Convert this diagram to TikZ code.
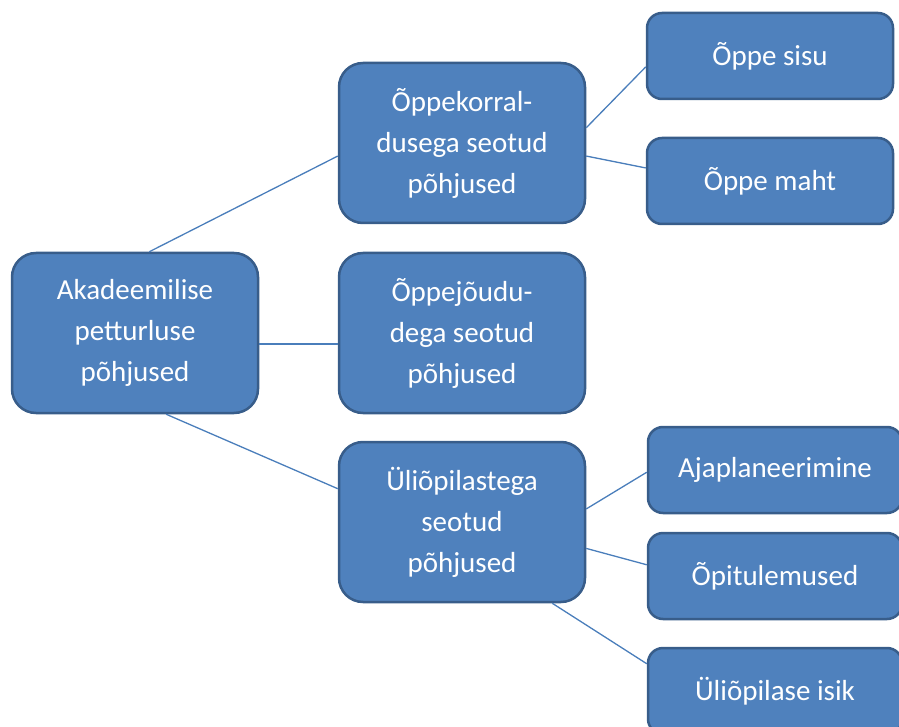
\documentclass[tikz,border=0pt]{standalone}
\usepackage{fontspec}
\setmainfont{Carlito}
\definecolor{boxfill}{HTML}{4F81BD}
\definecolor{boxline}{HTML}{385D8A}
\definecolor{linkline}{HTML}{4A7EBB}
\tikzset{
  bigbox/.style={draw=boxline, line width=2.5pt, fill=boxfill, rounded corners=24pt,
    minimum width=246pt, minimum height=160pt, text=white, align=center,
    font=\fontsize{29}{41}\selectfont, inner sep=0pt},
  leafbox/.style={bigbox, minimum height=86pt, rounded corners=15pt},
  wideleaf/.style={leafbox, minimum width=254pt}
}
\tikzset{link/.style={draw=linkline, line width=1.3pt}}
\begin{document}
\begin{tikzpicture}[x=1pt,y=-1pt]
  \useasboundingbox (0,0) rectangle (899,727);
  \clip (0,0) rectangle (899,727);
  \node[bigbox] (root) at (135,333) {Akadeemilise\\petturluse\\põhjused};
  \node[bigbox] (korraldus) at (462,143) {Õppekorral-\\dusega seotud\\põhjused};
  \node[bigbox] (oppejoud) at (462,333) {Õppejõudu-\\dega seotud\\põhjused};
  \node[bigbox] (tudeng) at (462,522) {Üliõpilastega\\seotud\\põhjused};
  \node[leafbox] (sisu) at (770,56) {Õppe sisu};
  \node[leafbox] (maht) at (770,181) {Õppe maht};
  \node[wideleaf] (aeg) at (775,470) {Ajaplaneerimine};
  \node[wideleaf] (tulemus) at (775,576) {Õpitulemused};
  \node[wideleaf] (isik) at (775,691) {Üliõpilase isik};
  \draw[link] (root.80) -- (korraldus.186);
  \draw[link] (root.-5) -- (oppejoud.185);
  \draw[link] (root.-69) -- (tudeng.165);
  \draw[link] (korraldus.7) -- (sisu.185);
  \draw[link] (korraldus.-6) -- (maht.174);
  \draw[link] (tudeng.6) -- (aeg.181);
  \draw[link] (tudeng.-12) -- (tulemus.175);
  \draw[link] (tudeng.-42) -- (isik.168);
\end{tikzpicture}
\end{document}
